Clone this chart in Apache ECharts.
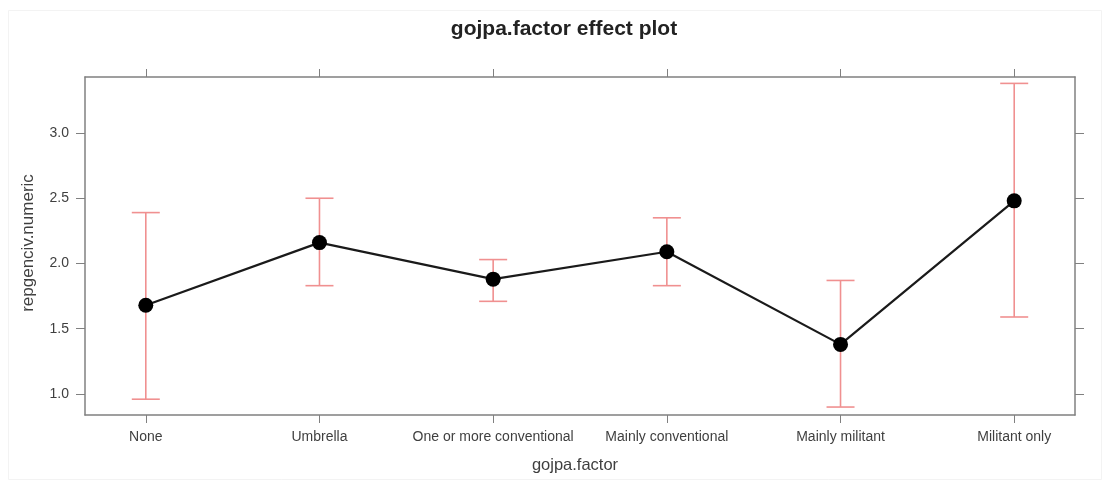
<!DOCTYPE html>
<html>
<head>
<meta charset="utf-8">
<script src="https://cdn.jsdelivr.net/npm/echarts@6/dist/echarts.min.js"></script>
<style>
  html, body { margin: 0; padding: 0; background: #ffffff; }
  #chart { width: 1110px; height: 489px; }
</style>
</head>
<body>
<div id="chart"></div>
<script>
// Factor levels and fitted effects with 95% confidence limits
const categories = ['None', 'Umbrella', 'One or more conventional', 'Mainly conventional', 'Mainly militant', 'Militant only'];
const fitValues = [1.68, 2.16, 1.88, 2.09, 1.38, 2.48];
const lowerValues = [0.96, 1.83, 1.71, 1.83, 0.90, 1.59];
const upperValues = [2.39, 2.50, 2.03, 2.35, 1.87, 3.38];
const yTicks = [1.0, 1.5, 2.0, 2.5, 3.0];

const positions = categories.map((c, i) => i + 1);
const lineData = positions.map((p, i) => [p, fitValues[i]]);
const barData = positions.map((p, i) => [p, lowerValues[i], upperValues[i]]);

const frameColor = '#808080';
const textColor = '#3f3f3f';
const ciColor = '#f09090';
const FONT = 'Liberation Sans, Arial, sans-serif';

const chart = echarts.init(document.getElementById('chart'), null, { renderer: 'canvas' });

const option = {
  backgroundColor: '#ffffff',
  animation: false,
  graphic: [
    { type: 'rect', shape: { x: 8.5, y: 10.5, width: 1093, height: 469 },
      style: { fill: null, stroke: '#f3f3f3', lineWidth: 1 }, silent: true, z: -1 },
    { type: 'text', x: 564, y: 29,
      style: { text: 'gojpa.factor effect plot', fontFamily: FONT, fontSize: 21, fontWeight: 'bold',
               fill: '#222', textAlign: 'center', textVerticalAlign: 'middle' } },
    { type: 'text', x: 575, y: 465,
      style: { text: 'gojpa.factor', fontFamily: FONT, fontSize: 16.5, fill: textColor,
               textAlign: 'center', textVerticalAlign: 'middle' } },
    { type: 'text', x: 28, y: 243, rotation: Math.PI / 2,
      style: { text: 'repgenciv.numeric', fontFamily: FONT, fontSize: 17, fill: textColor,
               textAlign: 'center', textVerticalAlign: 'middle' } }
  ],
  grid: { left: 85, right: 35, top: 77, bottom: 74, containLabel: false },
  xAxis: [
    {
      type: 'value', position: 'bottom', min: 0.65, max: 6.35,
      splitLine: { show: false },
      axisLine: { show: true, onZero: false, lineStyle: { color: frameColor, width: 1.5 } },
      axisTick: { show: true, customValues: positions, length: 8, inside: false, lineStyle: { color: frameColor } },
      axisLabel: {
        customValues: positions, margin: 15,
        formatter: v => categories[Math.round(v) - 1] || '',
        fontFamily: FONT, fontSize: 14, color: textColor
      }
    },
    {
      type: 'value', position: 'top', min: 0.65, max: 6.35,
      splitLine: { show: false },
      axisLine: { show: true, onZero: false, lineStyle: { color: frameColor, width: 1.5 } },
      axisTick: { show: true, customValues: positions, length: 8, inside: false, lineStyle: { color: frameColor } },
      axisLabel: { show: false }
    }
  ],
  yAxis: [
    {
      type: 'value', position: 'left', min: 0.839, max: 3.429,
      splitLine: { show: false },
      axisLine: { show: true, onZero: false, lineStyle: { color: frameColor, width: 1.5 } },
      axisTick: { show: true, customValues: yTicks, length: 9, inside: false, lineStyle: { color: frameColor } },
      axisLabel: {
        customValues: yTicks, margin: 16,
        formatter: v => v.toFixed(1),
        fontFamily: FONT, fontSize: 14, color: textColor
      }
    },
    {
      type: 'value', position: 'right', min: 0.839, max: 3.429,
      splitLine: { show: false },
      axisLine: { show: true, onZero: false, lineStyle: { color: frameColor, width: 1.5 } },
      axisTick: { show: true, customValues: yTicks, length: 9, inside: false, lineStyle: { color: frameColor } },
      axisLabel: { show: false }
    }
  ],
  series: [
    {
      // confidence limits drawn as capped vertical bars
      type: 'custom',
      xAxisIndex: 0, yAxisIndex: 0,
      data: barData,
      encode: { x: 0, y: [1, 2] },
      renderItem: function (params, api) {
        const x = api.value(0);
        const lo = api.coord([x, api.value(1)]);
        const hi = api.coord([x, api.value(2)]);
        const half = 14;
        const style = { stroke: ciColor, lineWidth: 1.6, fill: null };
        return {
          type: 'group',
          children: [
            { type: 'line', shape: { x1: lo[0], y1: lo[1], x2: hi[0], y2: hi[1] }, style: style },
            { type: 'line', shape: { x1: lo[0] - half, y1: lo[1], x2: lo[0] + half, y2: lo[1] }, style: style },
            { type: 'line', shape: { x1: hi[0] - half, y1: hi[1], x2: hi[0] + half, y2: hi[1] }, style: style }
          ]
        };
      },
      z: 2
    },
    {
      type: 'line',
      xAxisIndex: 0, yAxisIndex: 0,
      data: lineData,
      symbol: 'circle', symbolSize: 15,
      itemStyle: { color: '#000000' },
      lineStyle: { color: '#1a1a1a', width: 2.2 },
      z: 3
    }
  ]
};

chart.setOption(option);
</script>
</body>
</html>
